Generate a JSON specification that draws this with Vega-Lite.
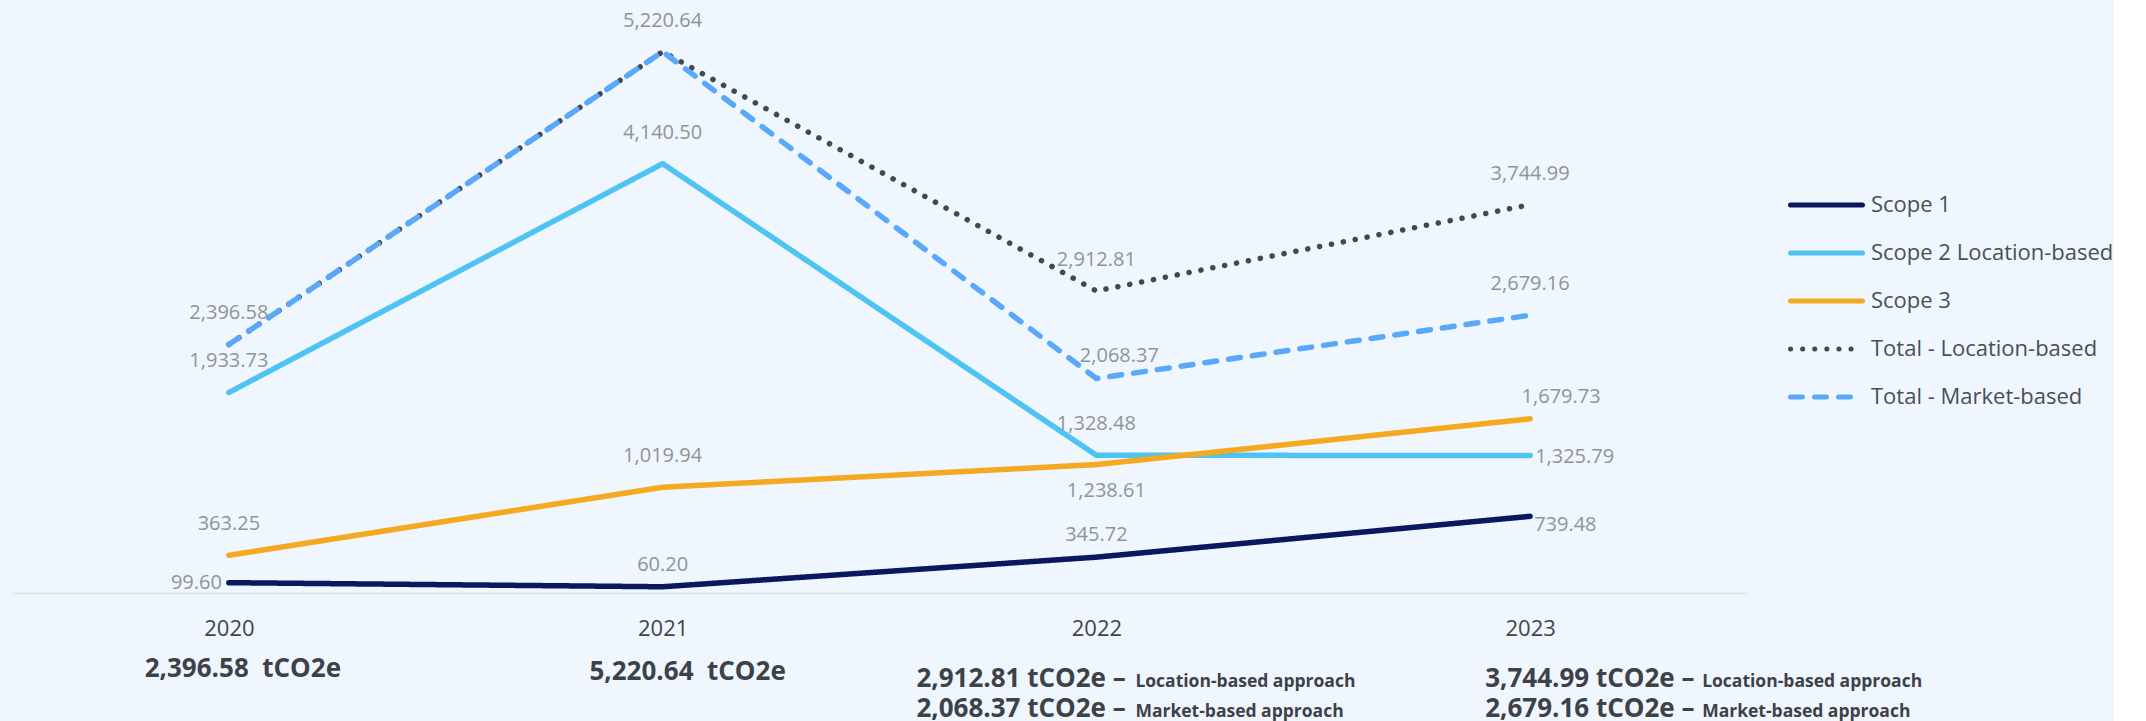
{
  "$schema": "https://vega.github.io/schema/vega-lite/v6.json",
  "background": "#f0f6fd",
  "padding": {"left": 12, "top": 0, "right": 0, "bottom": 4},
  "bounds": "flush",
  "spacing": 94,
  "config": {"view": {"stroke": null}, "font": "Open Sans", "text": {"font": "Open Sans"}},
  "datasets": {
    "emissions": [
      {"year": "2020", "series": "Scope 1", "value": 99.60},
      {"year": "2021", "series": "Scope 1", "value": 60.20},
      {"year": "2022", "series": "Scope 1", "value": 345.72},
      {"year": "2023", "series": "Scope 1", "value": 739.48},
      {"year": "2020", "series": "Scope 2 Location-based", "value": 1933.73},
      {"year": "2021", "series": "Scope 2 Location-based", "value": 4140.50},
      {"year": "2022", "series": "Scope 2 Location-based", "value": 1328.48},
      {"year": "2023", "series": "Scope 2 Location-based", "value": 1325.79},
      {"year": "2020", "series": "Scope 3", "value": 363.25},
      {"year": "2021", "series": "Scope 3", "value": 1019.94},
      {"year": "2022", "series": "Scope 3", "value": 1238.61},
      {"year": "2023", "series": "Scope 3", "value": 1679.73},
      {"year": "2020", "series": "Total - Location-based", "value": 2396.58},
      {"year": "2021", "series": "Total - Location-based", "value": 5220.64},
      {"year": "2022", "series": "Total - Location-based", "value": 2912.81},
      {"year": "2023", "series": "Total - Location-based", "value": 3744.99},
      {"year": "2020", "series": "Total - Market-based", "value": 2396.58},
      {"year": "2021", "series": "Total - Market-based", "value": 5220.64},
      {"year": "2022", "series": "Total - Market-based", "value": 2068.37},
      {"year": "2023", "series": "Total - Market-based", "value": 2679.16}
    ],
    "totals": [
      {"year": "2020", "line": "1", "main": "2,396.58\u00a0 tCO2e", "note": ""},
      {"year": "2021", "line": "1", "main": "5,220.64\u00a0 tCO2e", "note": ""},
      {"year": "2022", "line": "1", "main": "2,912.81 tCO2e –", "note": "Location-based approach"},
      {"year": "2022", "line": "2", "main": "2,068.37 tCO2e –", "note": "Market-based approach"},
      {"year": "2023", "line": "1", "main": "3,744.99 tCO2e –", "note": "Location-based approach"},
      {"year": "2023", "line": "2", "main": "2,679.16 tCO2e –", "note": "Market-based approach"}
    ]
  },
  "vconcat": [
    {
      "width": 1735,
      "height": 593,
      "data": {"name": "emissions"},
      "encoding": {
        "x": {"field": "year", "type": "ordinal", "scale": {"type": "point", "padding": 0.5},
          "axis": {"title": null, "labelAngle": 0, "ticks": false, "grid": false, "domainColor": "#e2e6eb", "domainWidth": 2,
            "labelFontSize": 22, "labelColor": "#40454d", "labelPadding": 35, "labelBaseline": "middle", "labelFont": "Open Sans"}},
        "y": {"field": "value", "type": "quantitative", "scale": {"domain": [0, 5719], "nice": false}, "axis": null}
      },
      "layer": [
        {
          "mark": {"type": "line", "strokeWidth": 5.5, "strokeCap": "round", "strokeJoin": "round"},
          "encoding": {
            "color": {"field": "series", "type": "nominal",
              "scale": {"domain": ["Scope 1", "Scope 2 Location-based", "Scope 3", "Total - Location-based", "Total - Market-based"],
                "range": ["#0b175e", "#4fc3f4", "#f5a920", "#43474e", "#5aa8fa"]},
              "legend": {"title": null, "orient": "none", "legendX": 1776, "legendY": 193,
                "labelFontSize": 22, "labelFont": "Open Sans", "labelColor": "#4a4f57", "labelOffset": 6, "labelLimit": 600,
                "symbolSize": 5184, "symbolStrokeWidth": 5, "clipHeight": 24, "rowPadding": 24,
                "encode": {"symbols": {"update": {"strokeCap": {"value": "round"}}}}}},
            "strokeDash": {"field": "series", "type": "nominal",
              "scale": {"domain": ["Scope 1", "Scope 2 Location-based", "Scope 3", "Total - Location-based", "Total - Market-based"],
                "range": [[1, 0], [1, 0], [1, 0], [0.1, 12], [12, 12]]},
              "legend": {"title": null, "orient": "none", "legendX": 1776, "legendY": 193,
                "labelFontSize": 22, "labelFont": "Open Sans", "labelColor": "#4a4f57", "labelOffset": 6, "labelLimit": 600,
                "symbolSize": 5184, "symbolStrokeWidth": 5, "clipHeight": 24, "rowPadding": 24,
                "encode": {"symbols": {"update": {"strokeCap": {"value": "round"}}}}}}
          }
        },
        {
          "transform": [{"filter": "!(datum.series === 'Total - Market-based' && (datum.year === '2020' || datum.year === '2021')) && datum.series !== 'Scope 1' && !(datum.series === 'Scope 2 Location-based' && datum.year === '2023') && !(datum.series === 'Scope 3' && (datum.year === '2022' || datum.year === '2023')) && !(datum.series === 'Total - Market-based' && datum.year === '2022')"}],
          "mark": {"type": "text", "fontSize": 20, "color": "#8f949b", "baseline": "middle", "dy": -31},
          "encoding": {"text": {"field": "value", "type": "quantitative", "format": ",.2f"}}
        },
        {
          "transform": [{"filter": "datum.series === 'Scope 1' && datum.year === '2020'"}],
          "mark": {"type": "text", "fontSize": 20, "color": "#8f949b", "baseline": "middle", "align": "right", "dx": -7},
          "encoding": {"text": {"field": "value", "type": "quantitative", "format": ",.2f"}}
        },
        {
          "transform": [{"filter": "datum.series === 'Scope 1' && (datum.year === '2021' || datum.year === '2022')"}],
          "mark": {"type": "text", "fontSize": 20, "color": "#8f949b", "baseline": "middle", "dy": -22},
          "encoding": {"text": {"field": "value", "type": "quantitative", "format": ",.2f"}}
        },
        {
          "transform": [{"filter": "datum.series === 'Scope 1' && datum.year === '2023'"}],
          "mark": {"type": "text", "fontSize": 20, "color": "#8f949b", "baseline": "middle", "align": "left", "dx": 4, "dy": 9},
          "encoding": {"text": {"field": "value", "type": "quantitative", "format": ",.2f"}}
        },
        {
          "transform": [{"filter": "datum.series === 'Scope 2 Location-based' && datum.year === '2023'"}],
          "mark": {"type": "text", "fontSize": 20, "color": "#8f949b", "baseline": "middle", "align": "left", "dx": 5, "dy": 1},
          "encoding": {"text": {"field": "value", "type": "quantitative", "format": ",.2f"}}
        },
        {
          "transform": [{"filter": "datum.series === 'Scope 3' && datum.year === '2022'"}],
          "mark": {"type": "text", "fontSize": 20, "color": "#8f949b", "baseline": "middle", "dx": 10, "dy": 26},
          "encoding": {"text": {"field": "value", "type": "quantitative", "format": ",.2f"}}
        },
        {
          "transform": [{"filter": "datum.series === 'Scope 3' && datum.year === '2023'"}],
          "mark": {"type": "text", "fontSize": 20, "color": "#8f949b", "baseline": "middle", "dx": 31, "dy": -22},
          "encoding": {"text": {"field": "value", "type": "quantitative", "format": ",.2f"}}
        },
        {
          "transform": [{"filter": "datum.series === 'Total - Market-based' && datum.year === '2022'"}],
          "mark": {"type": "text", "fontSize": 20, "color": "#8f949b", "baseline": "middle", "dx": 23, "dy": -23},
          "encoding": {"text": {"field": "value", "type": "quantitative", "format": ",.2f"}}
        }
      ]
    },
    {
      "width": 1735,
      "height": 30,
      "data": {"name": "totals"},
      "encoding": {
        "x": {"field": "year", "type": "ordinal", "scale": {"type": "point", "padding": 0.5, "domain": ["2020", "2021", "2022", "2023"]}, "axis": null},
        "y": {"field": "line", "type": "ordinal", "scale": {"type": "point", "padding": 0, "domain": ["1", "2"]}, "axis": null}
      },
      "layer": [
        {
          "transform": [{"filter": "datum.year === '2020'"}],
          "mark": {"type": "text", "fontSize": 26, "fontWeight": "bold", "color": "#3d4148", "baseline": "alphabetic", "align": "center", "dx": 14, "dy": -10},
          "encoding": {"text": {"field": "main"}}
        },
        {
          "transform": [{"filter": "datum.year === '2021'"}],
          "mark": {"type": "text", "fontSize": 26, "fontWeight": "bold", "color": "#3d4148", "baseline": "alphabetic", "align": "center", "dx": 25, "dy": -7},
          "encoding": {"text": {"field": "main"}}
        },
        {
          "transform": [{"filter": "datum.year === '2022'"}],
          "mark": {"type": "text", "fontSize": 26, "fontWeight": "bold", "color": "#3d4148", "baseline": "alphabetic", "align": "left", "dx": -180},
          "encoding": {"text": {"field": "main"}}
        },
        {
          "transform": [{"filter": "datum.year === '2022'"}],
          "mark": {"type": "text", "fontSize": 17.5, "fontWeight": "bold", "color": "#3d4148", "baseline": "alphabetic", "align": "left", "dx": 39},
          "encoding": {"text": {"field": "note"}}
        },
        {
          "transform": [{"filter": "datum.year === '2023'"}],
          "mark": {"type": "text", "fontSize": 26, "fontWeight": "bold", "color": "#3d4148", "baseline": "alphabetic", "align": "left", "dx": -45},
          "encoding": {"text": {"field": "main"}}
        },
        {
          "transform": [{"filter": "datum.year === '2023'"}],
          "mark": {"type": "text", "fontSize": 17.5, "fontWeight": "bold", "color": "#3d4148", "baseline": "alphabetic", "align": "left", "dx": 172},
          "encoding": {"text": {"field": "note"}}
        }
      ]
    }
  ]
}
